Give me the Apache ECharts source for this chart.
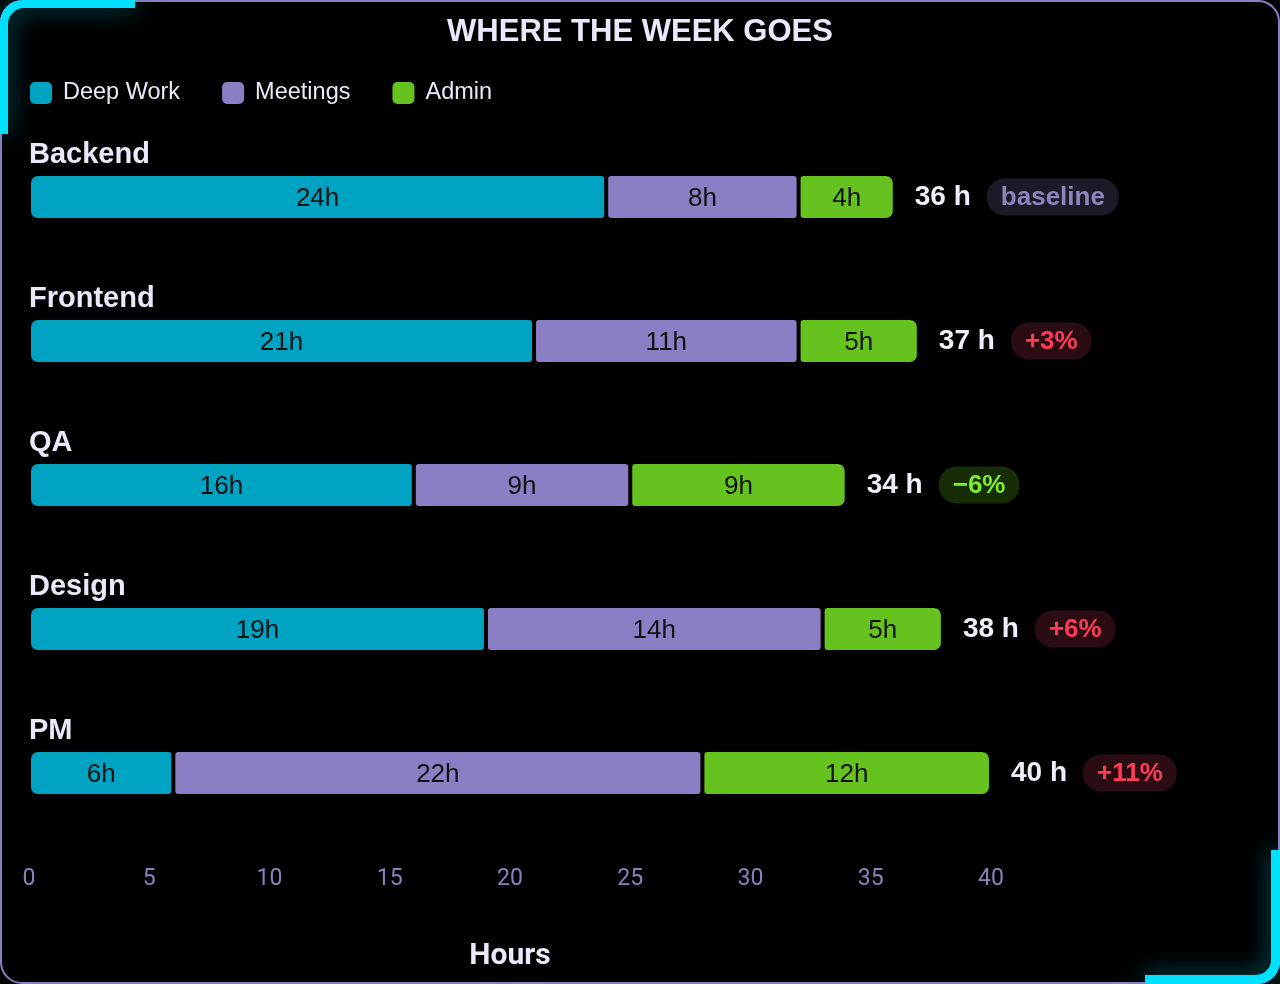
<!DOCTYPE html>
<html>
<head>
<meta charset="utf-8">
<script src="https://cdn.jsdelivr.net/npm/echarts@6/dist/echarts.min.js"></script>
<style>
  html, body { margin: 0; padding: 0; background: #000; width: 1280px; height: 984px; overflow: hidden; }
  #chart { position: absolute; left: 0; top: 0; width: 1280px; height: 984px; }
  .frame { position: absolute; left: 0; top: 0; width: 1280px; height: 984px; box-sizing: border-box;
           border: 2px solid #8a7fc0; border-radius: 22px; pointer-events: none; }
  .br { position: absolute; width: 135px; height: 134px; box-sizing: border-box; pointer-events: none;
        filter: drop-shadow(0 0 12px rgba(0, 229, 255, 0.5)); }
  .tl { left: 0; top: 0; border-top: 8px solid #00e1ff; border-left: 8px solid #00e1ff; border-top-left-radius: 24px; }
  .bri { right: 0; bottom: 0; border-bottom: 9px solid #00e1ff; border-right: 9px solid #00e1ff; border-bottom-right-radius: 24px; }
</style>
</head>
<body>
<div id="chart"></div>
<div class="frame"></div>
<div class="br tl"></div>
<div class="br bri"></div>
<script>
const categories = ['Backend', 'Frontend', 'QA', 'Design', 'PM'];
const deepWork = [24, 21, 16, 19, 6];
const meetings = [8, 11, 9, 14, 22];
const admin = [4, 5, 9, 5, 12];
const deltaLabels = ['baseline', '+3%', '\u22126%', '+6%', '+11%'];
const deltaKinds = ['base', 'up', 'down', 'up', 'up'];
const xTicks = [0, 5, 10, 15, 20, 25, 30, 35, 40];

const totals = categories.map((c, i) => deepWork[i] + meetings[i] + admin[i]);

const FONT = '"Liberation Sans", Arial, sans-serif';
const C_DEEP = '#00a3c1';
const C_MEET = '#8b7ec4';
const C_ADMIN = '#66c21e';

const chart = echarts.init(document.getElementById('chart'), null, { renderer: 'canvas' });

function segLabel() {
  return { show: true, position: 'inside', color: '#111', fontSize: 26, fontFamily: FONT,
           offset: [0, 2], formatter: p => p.value + 'h' };
}

const badge = (color, bg) => ({ color: color, backgroundColor: bg, fontSize: 26, fontWeight: 'bold', fontFamily: FONT,
                                padding: [6, 14, 5, 14], borderRadius: 18 });

const option = {
  backgroundColor: 'transparent',
  animation: false,
  title: {
    text: 'WHERE THE WEEK GOES', left: 'center', top: 12,
    textStyle: { color: '#ebe8fa', fontSize: 31, fontWeight: 'bold', fontFamily: FONT }
  },
  legend: {
    data: ['Deep Work', 'Meetings', 'Admin'],
    left: 28, top: 80, padding: 0, itemWidth: 24, itemHeight: 24, itemGap: 40, icon: 'roundRect',
    textStyle: { color: '#ebe8fa', fontSize: 23.5, fontFamily: FONT, padding: [0, 0, 0, 5] },
    selectedMode: false
  },
  grid: { left: 29, right: 289, top: 125, bottom: 139, containLabel: false },
  xAxis: {
    type: 'value', min: 0, max: 40, interval: 5,
    axisLine: { show: false }, axisTick: { show: false }, splitLine: { show: false },
    axisLabel: { color: '#8a82bc', fontSize: 23, fontFamily: 'Roboto, sans-serif', margin: 23,
                 customValues: xTicks },
    name: 'Hours', nameLocation: 'middle', nameGap: 96,
    nameTextStyle: { color: '#ebe8fa', fontSize: 30, fontWeight: 'bold', fontFamily: 'Roboto, sans-serif' }
  },
  yAxis: {
    type: 'category', data: categories, inverse: true,
    axisLine: { show: false }, axisTick: { show: false }, splitLine: { show: false },
    axisLabel: {
      inside: true, margin: 0, align: 'left', verticalAlign: 'bottom',
      color: '#ebe8fa', fontSize: 29, fontWeight: 'bold', fontFamily: FONT,
      lineHeight: 30, padding: [0, 0, 27, 0]
    }
  },
  series: [
    {
      name: 'Deep Work', type: 'bar', stack: 'total', data: deepWork, barWidth: 46,
      itemStyle: { color: C_DEEP, borderColor: '#000', borderWidth: 2, borderRadius: [8, 4, 4, 8] },
      label: segLabel(), silent: true
    },
    {
      name: 'Meetings', type: 'bar', stack: 'total', data: meetings, barWidth: 46,
      itemStyle: { color: C_MEET, borderColor: '#000', borderWidth: 2, borderRadius: 4 },
      label: segLabel(), silent: true
    },
    {
      name: 'Admin', type: 'bar', stack: 'total', data: admin, barWidth: 46,
      itemStyle: { color: C_ADMIN, borderColor: '#000', borderWidth: 2, borderRadius: [4, 8, 8, 4] },
      label: segLabel(), silent: true
    },
    {
      name: 'Total', type: 'scatter', symbolSize: 0, silent: true,
      itemStyle: { opacity: 1 },
      data: totals.map((t, i) => [t, categories[i]]),
      label: {
        show: true, position: 'right', distance: 20,
        formatter: p => '{t|' + p.value[0] + ' h}{' + deltaKinds[p.dataIndex] + '|' + deltaLabels[p.dataIndex] + '}',
        rich: {
          t: { color: '#f0eefa', fontSize: 28, fontWeight: 'bold', fontFamily: FONT, padding: [0, 16, 0, 0] },
          base: badge('#8c84bc', '#1c1a26'),
          up: badge('#ff3b57', '#2a0c12'),
          down: badge('#7ef02a', '#172d08')
        }
      }
    }
  ]
};
chart.setOption(option);
</script>
</body>
</html>
